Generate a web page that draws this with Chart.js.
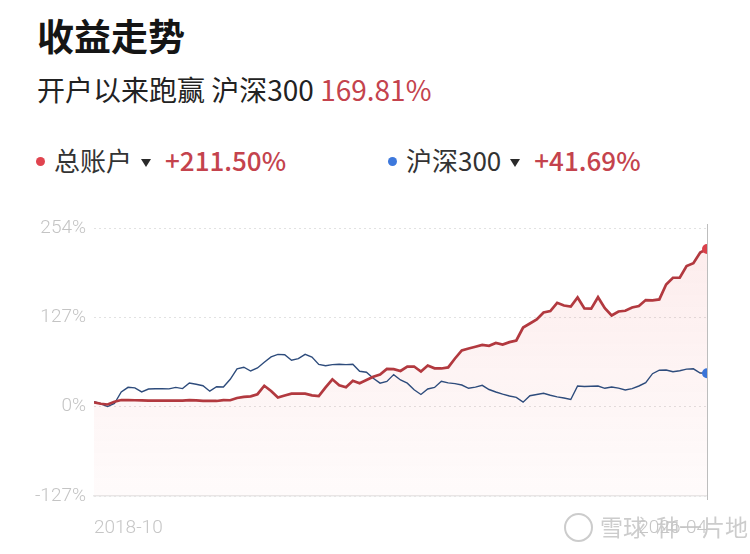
<!DOCTYPE html>
<html lang="zh">
<head>
<meta charset="utf-8">
<title>收益走势</title>
<script src="https://cdn.jsdelivr.net/npm/chart.js@4.4.1/dist/chart.umd.min.js"></script>
<style>
  html, body { margin: 0; padding: 0; background: #fff; }
  body { width: 750px; height: 554px; position: relative; overflow: hidden;
         font-family: "Noto Sans CJK SC", "Noto Sans", sans-serif; }
  .abs { position: absolute; white-space: nowrap; }
  .title { left: 37px; top: 10px; font-size: 37px; font-weight: 700; color: #151515; line-height: 50px; }
  .sub { left: 37px; top: 70px; font-size: 28px; color: #222; line-height: 38px; }
  .red { color: #c4434d; }
  .legend { top: 142px; font-size: 26px; color: #333; line-height: 36px; }
  .dot { display: inline-block; width: 9px; height: 9px; border-radius: 50%; vertical-align: middle; margin-right: 9px; position: relative; top: -2px; }
  .tri { display: inline-block; width: 0; height: 0; border-left: 5.5px solid transparent; border-right: 5.5px solid transparent;
         border-top: 8px solid #2a2a2a; vertical-align: middle; margin: 0 14px 0 9px; position: relative; top: -1px; }
  .pct { font-weight: 500; color: #c4434d; }
  #wrap { position: absolute; left: 0; top: 200px; width: 750px; height: 354px; }
  .wm { top: 508px; left: 564px; font-size: 23px; color: rgba(195,195,195,0.85); line-height: 36px; }
  .logo { display: inline-block; width: 25px; height: 25px; border: 2px solid rgba(195,195,195,0.85); border-radius: 50%;
          vertical-align: middle; margin-right: 7px; position: relative; top: -2px; }
</style>
</head>
<body>
<div class="abs title">收益走势</div>
<div class="abs sub">开户以来跑赢 沪深300 <span class="red">169.81%</span></div>
<div class="abs legend" style="left:36px"><span class="dot" style="background:#e0444f"></span>总账户<span class="tri"></span><span class="pct">+211.50%</span></div>
<div class="abs legend" style="left:388px"><span class="dot" style="background:#3d78dc"></span>沪深300<span class="tri"></span><span class="pct">+41.69%</span></div>
<div id="wrap"><canvas id="chart"></canvas></div>
<div class="abs wm"><span class="logo"></span>雪球<span style="margin-left:10px">种一片地</span></div>

<script>
// 月度收益率 (%) , 2018-10 起
const X_LABELS = ["2018-10", "2026-04"];
const Y_TICKS = [-127, 0, 127, 254];

const ZONGZHANGHU = [
  6.2, 4.1, 3.1, 6.9, 9.5, 9.2, 9.1, 8.9, 8.6, 8.5,
  8.5, 8.5, 8.5, 8.5, 9.2, 8.9, 8.1, 8.1, 8.1, 9.2,
  9.1, 12.3, 14.0, 14.7, 17.7, 29.7, 22.3, 13.0, 15.9, 18.4,
  18.4, 18.4, 16.0, 15.2, 27.3, 38.9, 30.5, 27.7, 36.9, 33.4,
  37.9, 42.5, 45.6, 53.6, 53.4, 50.7, 56.8, 57.1, 50.0, 58.5,
  54.5, 54.3, 55.8, 68.5, 79.9, 82.7, 85.1, 87.7, 86.5, 90.5,
  88.4, 91.7, 94.1, 112.5, 118.2, 123.9, 133.9, 136.0, 147.7, 143.8,
  142.4, 155.2, 139.6, 139.3, 155.6, 140.0, 129.6, 135.3, 136.4, 141.0,
  143.0, 151.6, 151.1, 152.5, 173.7, 183.3, 183.3, 200.0, 204.0, 219.2,
  224.1
];

const HS300 = [
  7.1, 4.1, 0.2, 4.5, 20.9, 27.5, 26.8, 20.9, 25.1, 25.5,
  25.4, 25.3, 27.4, 25.7, 33.6, 31.9, 29.8, 22.0, 28.4, 28.0,
  38.9, 53.8, 56.1, 50.7, 55.0, 63.1, 70.8, 74.3, 73.9, 66.1,
  68.2, 74.4, 70.6, 60.1, 58.2, 59.7, 60.2, 59.7, 60.4, 50.3,
  48.9, 40.3, 33.4, 35.8, 45.6, 37.9, 33.4, 24.1, 17.3, 25.1,
  27.4, 36.2, 33.9, 32.7, 30.8, 26.1, 27.7, 30.4, 24.4, 20.9,
  17.9, 15.2, 13.2, 6.4, 15.5, 17.3, 19.0, 16.3, 14.0, 12.3,
  10.2, 29.4, 28.7, 29.0, 29.4, 26.1, 28.0, 26.3, 23.7, 25.7,
  29.4, 34.1, 46.9, 51.8, 52.1, 49.6, 51.1, 53.4, 53.8, 47.9,
  47.4
];

const lastIdx = ZONGZHANGHU.length - 1;
const toPoints = arr => arr.map((v, i) => ({ x: i, y: v }));
const endDot = r => ctx => (ctx.dataIndex === lastIdx ? r : 0);

// 渐变填充
function redFill(ctx) {
  const { chart } = ctx;
  const area = chart.chartArea;
  if (!area) return "rgba(230,70,70,0.06)";
  const g = chart.ctx.createLinearGradient(0, area.top, 0, area.bottom);
  g.addColorStop(0, "rgba(232,80,80,0.11)");
  g.addColorStop(1, "rgba(232,80,80,0.025)");
  return g;
}

// 最后一个点的竖线
const cursorLine = {
  id: "cursorLine",
  beforeDatasetsDraw(chart) {
    const { ctx, chartArea, scales } = chart;
    const x = Math.round(scales.x.getPixelForValue(lastIdx)) + 0.5;
    ctx.save();
    ctx.strokeStyle = "#bdbdbd";
    ctx.lineWidth = 1;
    ctx.beginPath();
    ctx.moveTo(x, chartArea.top - 4);
    ctx.lineTo(x, chartArea.bottom + 4);
    ctx.stroke();
    ctx.restore();
  }
};

new Chart(document.getElementById("chart"), {
  type: "line",
  data: {
    datasets: [
      {
        label: "总账户",
        data: toPoints(ZONGZHANGHU),
        borderColor: "#b2393f",
        borderWidth: 2.7,
        backgroundColor: redFill,
        fill: "start",
        tension: 0,
        pointRadius: endDot(5),
        pointHoverRadius: 0,
        pointBackgroundColor: "#d9414b",
        pointBorderWidth: 0
      },
      {
        label: "沪深300",
        data: toPoints(HS300),
        borderColor: "#2e4c7c",
        borderWidth: 1.4,
        fill: false,
        tension: 0,
        pointRadius: endDot(5),
        pointHoverRadius: 0,
        pointBackgroundColor: "#3a74d8",
        pointBorderWidth: 0
      }
    ]
  },
  options: {
    responsive: true,
    maintainAspectRatio: false,
    animation: false,
    layout: { padding: { top: 28, right: 43, left: 0, bottom: 0 } },
    plugins: {
      legend: { display: false },
      tooltip: { enabled: false },
      filler: { drawTime: "beforeDatasetsDraw" }
    },
    scales: {
      x: {
        type: "linear",
        min: 0,
        max: lastIdx,
        afterBuildTicks: s => { s.ticks = [{ value: 0 }, { value: lastIdx }]; },
        afterFit: s => { s.height = 58; },
        grid: { display: false, drawTicks: false },
        border: { display: true, color: "#e9e9e9", width: 1.5 },
        ticks: {
          align: "inner",
          autoSkip: false,
          maxRotation: 0,
          padding: 21,
          color: "#c6c6c6",
          font: { family: "Roboto", size: 19, weight: 300 },
          callback: (v, i) => X_LABELS[i]
        }
      },
      y: {
        min: -127,
        max: 254,
        afterBuildTicks: s => { s.ticks = Y_TICKS.map(v => ({ value: v })); },
        afterFit: s => { s.width = 94; },
        grid: { color: "#e2e2e2", lineWidth: 1, drawTicks: false },
        border: { display: false, dash: [2, 3] },
        ticks: {
          padding: 8,
          color: "#c4c4c4",
          font: { family: "Roboto", size: 19, weight: 300 },
          callback: v => v + "%"
        }
      }
    }
  },
  plugins: [cursorLine]
});
</script>
</body>
</html>
